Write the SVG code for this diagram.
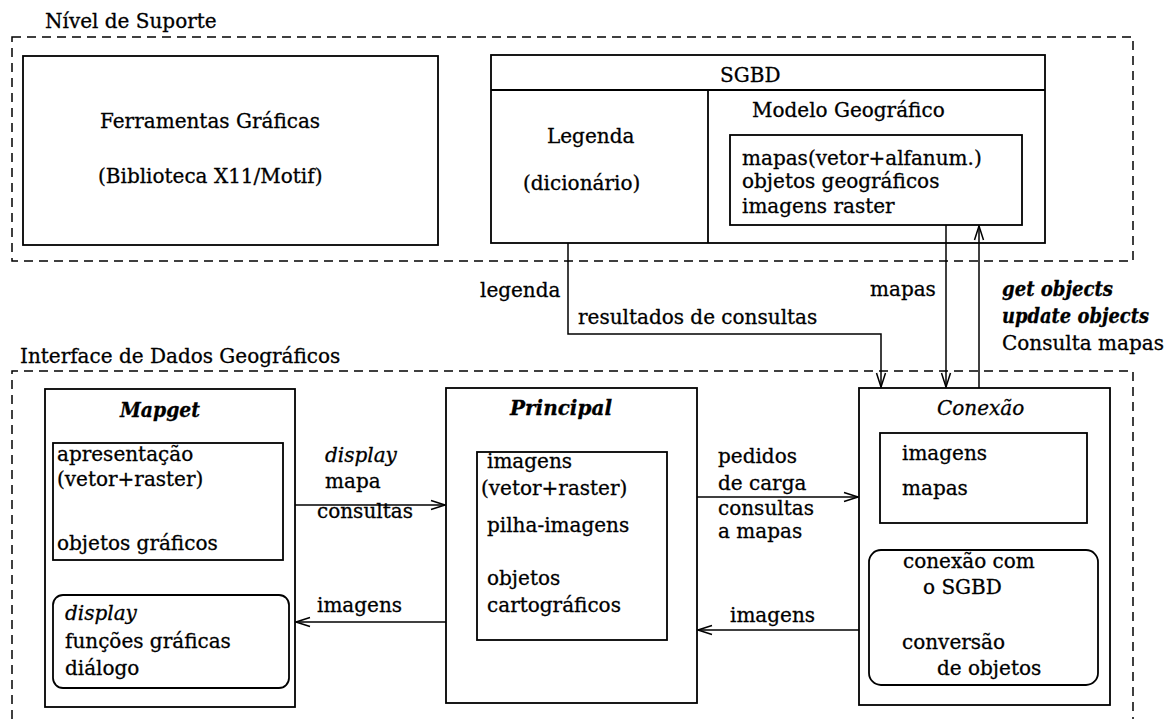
<svg xmlns="http://www.w3.org/2000/svg" width="1174" height="719" viewBox="0 0 1174 719">
  <style>
    text { font-family: "DejaVu Serif", "Liberation Serif", serif; font-size: 20px; fill: #000; stroke: #000; stroke-width: 0.3; }
    .it { font-style: italic; }
    .bi { font-style: italic; font-weight: bold; }
    .box { fill: none; stroke: #000; stroke-width: 1.8; }
    .frame { fill: none; stroke: #000; stroke-width: 1.5; stroke-dasharray: 9 6; }
    .link { fill: none; stroke: #000; stroke-width: 1.5; marker-end: url(#arrow); }
  </style>
  <defs>
    <marker id="arrow" viewBox="-15 -6 16 12" refX="0" refY="0" markerWidth="16" markerHeight="12" markerUnits="userSpaceOnUse" orient="auto">
      <path d="M-14,-4.5 L0,0 L-14,4.5" fill="none" stroke="#000" stroke-width="1.5"/>
    </marker>
  </defs>
  <rect width="1174" height="719" fill="#fff"/>

  <!-- support level frame -->
  <g id="nivel-suporte">
    <text x="45" y="28">Nível de Suporte</text>
    <rect class="frame" x="12" y="37" width="1121" height="224"/>
  </g>

  <g id="ferramentas">
    <rect class="box" x="23" y="56" width="415" height="189"/>
    <text x="100" y="128">Ferramentas Gráficas</text>
    <text x="98" y="183">(Biblioteca X11/Motif)</text>
  </g>

  <g id="sgbd">
    <rect class="box" x="491" y="55" width="554" height="188"/>
    <line class="box" x1="491" y1="90" x2="1045" y2="90"/>
    <line class="box" x1="708" y1="90" x2="708" y2="243"/>
    <text x="720" y="82">SGBD</text>
    <text x="547" y="143">Legenda</text>
    <text x="523" y="190">(dicionário)</text>
    <text x="752" y="117">Modelo Geográfico</text>
    <rect class="box" x="730" y="135" width="292" height="90"/>
    <text x="742" y="165">mapas(vetor+alfanum.)</text>
    <text x="742" y="188">objetos geográficos</text>
    <text x="742" y="213">imagens raster</text>
  </g>

  <!-- geographic data interface frame (open at the bottom) -->
  <g id="interface-dados">
    <text x="20" y="363">Interface de Dados Geográficos</text>
    <path class="frame" d="M12,719 V371 H1133 V719"/>
  </g>

  <g id="mapget">
    <rect class="box" x="45" y="389" width="250" height="318"/>
    <text class="bi" x="120" y="417" textLength="80" lengthAdjust="spacingAndGlyphs">Mapget</text>
    <rect class="box" x="53" y="443" width="230" height="117"/>
    <text x="57" y="461">apresentação</text>
    <text x="57" y="486">(vetor+raster)</text>
    <text x="57" y="550">objetos gráficos</text>
    <rect class="box" x="53" y="595" width="236" height="93" rx="10"/>
    <text class="it" x="65" y="620">display</text>
    <text x="65" y="648">funções gráficas</text>
    <text x="65" y="675">diálogo</text>
  </g>

  <g id="principal">
    <rect class="box" x="446" y="388" width="251" height="315"/>
    <text class="bi" x="510" y="415" textLength="102" lengthAdjust="spacingAndGlyphs">Principal</text>
    <rect class="box" x="477" y="452" width="190" height="188"/>
    <text x="487" y="468">imagens</text>
    <text x="481" y="495">(vetor+raster)</text>
    <text x="487" y="532">pilha-imagens</text>
    <text x="487" y="585">objetos</text>
    <text x="487" y="612">cartográficos</text>
  </g>

  <g id="conexao">
    <rect class="box" x="859" y="388" width="251" height="317"/>
    <text class="it" x="937" y="415">Conexão</text>
    <rect class="box" x="880" y="433" width="207" height="90"/>
    <text x="902" y="460">imagens</text>
    <text x="902" y="495">mapas</text>
    <rect class="box" x="869" y="550" width="229" height="135" rx="12"/>
    <text x="903" y="568">conexão com</text>
    <text x="923" y="594">o SGBD</text>
    <text x="902" y="649">conversão</text>
    <text x="937" y="675">de objetos</text>
  </g>

  <g id="connectors">
    <path class="link" d="M568,243 V334 H881 V387"/>
    <path class="link" d="M946,225 V387"/>
    <path class="link" d="M979,388 V226"/>
    <path class="link" d="M295,505 H445"/>
    <path class="link" d="M446,622 H296"/>
    <path class="link" d="M697,497 H858"/>
    <path class="link" d="M859,630 H698"/>
    <text x="480" y="297">legenda</text>
    <text x="578" y="324">resultados de consultas</text>
    <text x="870" y="296">mapas</text>
    <text class="bi" x="1002" y="296" textLength="111" lengthAdjust="spacingAndGlyphs">get objects</text>
    <text class="bi" x="1002" y="323" textLength="147" lengthAdjust="spacingAndGlyphs">update objects</text>
    <text x="1002" y="350">Consulta mapas</text>
    <text class="it" x="325" y="462">display</text>
    <text x="325" y="488">mapa</text>
    <text x="317" y="518">consultas</text>
    <text x="317" y="612">imagens</text>
    <text x="718" y="463">pedidos</text>
    <text x="718" y="490">de carga</text>
    <text x="718" y="515">consultas</text>
    <text x="718" y="538">a mapas</text>
    <text x="730" y="622">imagens</text>
  </g>
</svg>
